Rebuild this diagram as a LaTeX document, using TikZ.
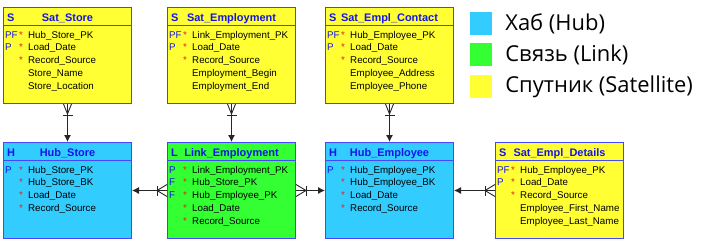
\documentclass[tikz,border=0pt]{standalone}
\usepackage{fontspec}
\setmainfont{Liberation Sans}
\newfontfamily\legfont{Open Sans}
\usetikzlibrary{arrows.meta,positioning,calc}
\definecolor{hubcyan}{RGB}{51,204,255}
\definecolor{lnkgreen}{RGB}{51,255,51}
\definecolor{satyellow}{RGB}{255,255,51}
\definecolor{erblue}{RGB}{70,70,255}
\definecolor{erink}{RGB}{20,20,235}
\definecolor{erred}{RGB}{230,30,30}

\begin{document}
\begin{tikzpicture}[x=1bp,y=-1bp,
  ent/.style={draw=erblue,line width=1bp,anchor=north west,minimum width=128bp,
              minimum height=96bp,inner sep=0},
  sep/.style={draw=erblue,line width=1bp},
  hdr/.style={font=\fontsize{11}{13}\selectfont\bfseries,text=erink,anchor=base,inner sep=0},
  tag/.style={font=\fontsize{11}{13}\selectfont\bfseries,text=erink,anchor=base west,inner sep=0},
  key/.style={font=\fontsize{9.8}{12}\selectfont,text=erink,anchor=base west,inner sep=0},
  req/.style={font=\fontsize{9.8}{12}\selectfont,text=erred,anchor=base west,inner sep=0},
  fld/.style={font=\fontsize{9.8}{12}\selectfont,anchor=base west,inner sep=0},
  rel/.style={line width=0.9bp,draw=black!85,-{Latex[length=7bp,width=7bp]}},
  foot/.style={line width=0.9bp,draw=black!85},
  legsq/.style={minimum width=22bp,minimum height=23bp,inner sep=0},
  legtxt/.style={font=\legfont\fontsize{22}{25}\selectfont,anchor=west,inner sep=0}
]
\useasboundingbox (0,0) rectangle (704,248);

% satellites, top row
\node[ent,fill=satyellow] (ss) at (3,7) {};
\draw[sep] ($(ss.north west)+(0,18)$) -- ($(ss.north east)+(0,18)$);
\node[tag] (ss-t) at ($(ss.north west)+(4,14.5)$) {S};
\node[hdr] (ss-h) at ($(ss.north)+(0,14.5)$) {Sat\_Store};
\foreach \k/\s/\f [count=\i from 0] in {PF/*/Hub\_Store\_PK, P/*/Load\_Date, {}/*/Record\_Source,
    {}/{}/Store\_Name, {}/{}/Store\_Location} {
  \node[key] (ss-k\i) at ($(ss.north west)+(2,31+12.75*\i)$) {\k};
  \node[req] (ss-r\i) at ($(ss.north west)+(16,31+12.75*\i)$) {\s};
  \node[fld] (ss-f\i) at ($(ss.north west)+(25,31+12.75*\i)$) {\f};
}

\node[ent,fill=satyellow] (se) at (167,7) {};
\draw[sep] ($(se.north west)+(0,18)$) -- ($(se.north east)+(0,18)$);
\node[tag] (se-t) at ($(se.north west)+(4,14.5)$) {S};
\node[hdr] (se-h) at ($(se.north)+(0,14.5)$) {Sat\_Employment};
\foreach \k/\s/\f [count=\i from 0] in {PF/*/Link\_Employment\_PK, P/*/Load\_Date, {}/*/Record\_Source,
    {}/{}/Employment\_Begin, {}/{}/Employment\_End} {
  \node[key] (se-k\i) at ($(se.north west)+(2,31+12.75*\i)$) {\k};
  \node[req] (se-r\i) at ($(se.north west)+(16,31+12.75*\i)$) {\s};
  \node[fld] (se-f\i) at ($(se.north west)+(25,31+12.75*\i)$) {\f};
}

\node[ent,fill=satyellow] (sc) at (325,7) {};
\draw[sep] ($(sc.north west)+(0,18)$) -- ($(sc.north east)+(0,18)$);
\node[tag] (sc-t) at ($(sc.north west)+(4,14.5)$) {S};
\node[hdr] (sc-h) at ($(sc.north)+(0,14.5)$) {Sat\_Empl\_Contact};
\foreach \k/\s/\f [count=\i from 0] in {PF/*/Hub\_Employee\_PK, P/*/Load\_Date, {}/*/Record\_Source,
    {}/{}/Employee\_Address, {}/{}/Employee\_Phone} {
  \node[key] (sc-k\i) at ($(sc.north west)+(2,31+12.75*\i)$) {\k};
  \node[req] (sc-r\i) at ($(sc.north west)+(16,31+12.75*\i)$) {\s};
  \node[fld] (sc-f\i) at ($(sc.north west)+(25,31+12.75*\i)$) {\f};
}

% hubs, link, satellite, bottom row
\node[ent,fill=hubcyan] (hs) at (3,142) {};
\draw[sep] ($(hs.north west)+(0,18)$) -- ($(hs.north east)+(0,18)$);
\node[tag] (hs-t) at ($(hs.north west)+(4,14.5)$) {H};
\node[hdr] (hs-h) at ($(hs.north)+(0,14.5)$) {Hub\_Store};
\foreach \k/\s/\f [count=\i from 0] in {P/*/Hub\_Store\_PK, {}/*/Hub\_Store\_BK, {}/*/Load\_Date,
    {}/*/Record\_Source} {
  \node[key] (hs-k\i) at ($(hs.north west)+(2,31+12.75*\i)$) {\k};
  \node[req] (hs-r\i) at ($(hs.north west)+(16,31+12.75*\i)$) {\s};
  \node[fld] (hs-f\i) at ($(hs.north west)+(25,31+12.75*\i)$) {\f};
}

\node[ent,fill=lnkgreen] (le) at (167,142) {};
\draw[sep] ($(le.north west)+(0,18)$) -- ($(le.north east)+(0,18)$);
\node[tag] (le-t) at ($(le.north west)+(4,14.5)$) {L};
\node[hdr] (le-h) at ($(le.north)+(0,14.5)$) {Link\_Employment};
\foreach \k/\s/\f [count=\i from 0] in {P/*/Link\_Employment\_PK, F/*/Hub\_Store\_PK, F/*/Hub\_Employee\_PK,
    {}/*/Load\_Date, {}/*/Record\_Source} {
  \node[key] (le-k\i) at ($(le.north west)+(2,31+12.75*\i)$) {\k};
  \node[req] (le-r\i) at ($(le.north west)+(16,31+12.75*\i)$) {\s};
  \node[fld] (le-f\i) at ($(le.north west)+(25,31+12.75*\i)$) {\f};
}

\node[ent,fill=hubcyan] (he) at (325,142) {};
\draw[sep] ($(he.north west)+(0,18)$) -- ($(he.north east)+(0,18)$);
\node[tag] (he-t) at ($(he.north west)+(4,14.5)$) {H};
\node[hdr] (he-h) at ($(he.north)+(0,14.5)$) {Hub\_Employee};
\foreach \k/\s/\f [count=\i from 0] in {P/*/Hub\_Employee\_PK, {}/*/Hub\_Employee\_BK, {}/*/Load\_Date,
    {}/*/Record\_Source} {
  \node[key] (he-k\i) at ($(he.north west)+(2,31+12.75*\i)$) {\k};
  \node[req] (he-r\i) at ($(he.north west)+(16,31+12.75*\i)$) {\s};
  \node[fld] (he-f\i) at ($(he.north west)+(25,31+12.75*\i)$) {\f};
}

\node[ent,fill=satyellow] (sd) at (495,142) {};
\draw[sep] ($(sd.north west)+(0,18)$) -- ($(sd.north east)+(0,18)$);
\node[tag] (sd-t) at ($(sd.north west)+(4,14.5)$) {S};
\node[hdr] (sd-h) at ($(sd.north)+(0,14.5)$) {Sat\_Empl\_Details};
\foreach \k/\s/\f [count=\i from 0] in {PF/*/Hub\_Employee\_PK, P/*/Load\_Date, {}/*/Record\_Source,
    {}/{}/Employee\_First\_Name, {}/{}/Employee\_Last\_Name} {
  \node[key] (sd-k\i) at ($(sd.north west)+(2,31+12.75*\i)$) {\k};
  \node[req] (sd-r\i) at ($(sd.north west)+(16,31+12.75*\i)$) {\s};
  \node[fld] (sd-f\i) at ($(sd.north west)+(25,31+12.75*\i)$) {\f};
}

% relationships (crow's foot on the many side)
\draw[rel] (ss.south) -- (hs.north);
\draw[foot] ($(ss.south)+(-4,0)$) -- ($(ss.south)+(0,10)$) -- ($(ss.south)+(4,0)$);
\draw[foot] ($(ss.south)+(-5,11)$) -- ($(ss.south)+(5,11)$);

\draw[rel] (se.south) -- (le.north);
\draw[foot] ($(se.south)+(-4,0)$) -- ($(se.south)+(0,10)$) -- ($(se.south)+(4,0)$);
\draw[foot] ($(se.south)+(-5,11)$) -- ($(se.south)+(5,11)$);

\draw[rel] (sc.south) -- (he.north);
\draw[foot] ($(sc.south)+(-4,0)$) -- ($(sc.south)+(0,10)$) -- ($(sc.south)+(4,0)$);
\draw[foot] ($(sc.south)+(-5,11)$) -- ($(sc.south)+(5,11)$);

\draw[rel] (le.west) -- (hs.east);
\draw[foot] ($(le.west)+(0,-6)$) -- ($(le.west)+(-10,0)$) -- ($(le.west)+(0,6)$);
\draw[foot] ($(le.west)+(-10,-5)$) -- ($(le.west)+(-10,5)$);

\draw[rel] (le.east) -- (he.west);
\draw[foot] ($(le.east)+(0,-6)$) -- ($(le.east)+(10,0)$) -- ($(le.east)+(0,6)$);
\draw[foot] ($(le.east)+(10,-5)$) -- ($(le.east)+(10,5)$);

\draw[rel] (sd.west) -- (he.east);
\draw[foot] ($(sd.west)+(0,-6)$) -- ($(sd.west)+(-10,0)$) -- ($(sd.west)+(0,6)$);
\draw[foot] ($(sd.west)+(-10,-5)$) -- ($(sd.west)+(-10,5)$);

% legend
\node[legsq,fill=hubcyan]   (kh) at (481,23.5) {};
\node[legsq,fill=lnkgreen]  (kl) at (481,54.5) {};
\node[legsq,fill=satyellow] (ks) at (481,86.5) {};
\node[legtxt,right=13bp of kh] (kh-l) {Хаб (Hub)};
\node[legtxt,right=13bp of kl] (kl-l) {Связь (Link)};
\node[legtxt,right=13bp of ks] (ks-l) {Спутник (Satellite)};
\end{tikzpicture}
\end{document}
